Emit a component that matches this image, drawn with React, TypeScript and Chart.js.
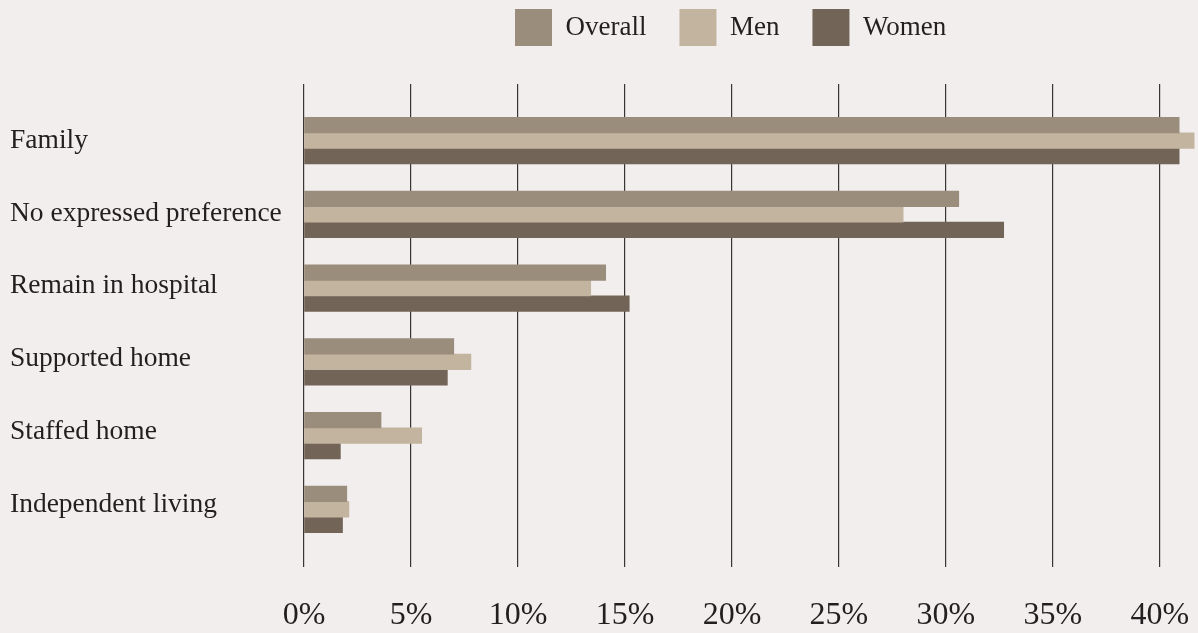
import { useEffect, useRef } from 'react';
import { Chart, registerables } from 'chart.js';

Chart.register(...registerables);

const categories = [
  'Family',
  'No expressed preference',
  'Remain in hospital',
  'Supported home',
  'Staffed home',
  'Independent living',
];
const overall = [40.9, 30.6, 14.1, 7.0, 3.6, 2.0];
const men = [41.6, 28.0, 13.4, 7.8, 5.5, 2.1];
const women = [40.9, 32.7, 15.2, 6.7, 1.7, 1.8];
const xTickValues = [0, 5, 10, 15, 20, 25, 30, 35, 40];
const seriesNames = ['Overall', 'Men', 'Women'];

const BG = '#f2eeee';
const TEXT = '#231f20';
const FONT = "'Liberation Serif', 'DejaVu Serif', serif";
const COLORS = ['#9a8d7b', '#c2b49f', '#726557'];

const legendShift = {
  id: 'legendShift',
  afterLayout(chart: any) {
    const lg = chart.legend;
    if (!lg) return;
    const p = lg.options.labels.padding;
    const dx = 515 - p - lg.left;
    const dy = 9 - p - lg.top;
    lg.left += dx;
    lg.right += dx;
    lg.top += dy;
    lg.bottom += dy;
  },
};

const noPad = (axis: any) => {
  axis.paddingLeft = 0;
  axis.paddingRight = 0;
  axis.paddingTop = 0;
  axis.paddingBottom = 0;
};

export default function App() {
  const ref = useRef<HTMLCanvasElement>(null);

  useEffect(() => {
    if (!ref.current) return;
    const toPts = (arr: number[]) => arr.map((v, i) => ({ x: v, y: i }));
    const series = [overall, men, women];
    const chart = new Chart(ref.current, {
      type: 'bar',
      data: {
        datasets: series.map((s, k) => ({
          label: seriesNames[k],
          data: toPts(s),
          backgroundColor: COLORS[k],
          borderWidth: 0,
          barThickness: 15.5,
          yAxisID: 'y',
          xAxisID: 'x',
        })),
      },
      options: {
        indexAxis: 'y',
        animation: false,
        responsive: false,
        layout: { padding: { left: 10, right: 0, top: 4, bottom: 0 } },
        plugins: {
          tooltip: { enabled: false },
          legend: {
            display: true,
            position: 'top',
            align: 'start',
            labels: {
              boxWidth: 37,
              boxHeight: 37,
              padding: 33,
              color: TEXT,
              font: { family: FONT, size: 27 },
            },
          },
        },
        scales: {
          x: {
            type: 'linear',
            position: 'bottom',
            offset: false,
            min: 0,
            max: 41.78,
            afterBuildTicks: (axis: any) => {
              axis.ticks = xTickValues.map((v) => ({ value: v }));
            },
            afterFit: (axis: any) => {
              axis.height = 66;
              noPad(axis);
            },
            grid: {
              display: true,
              offset: false,
              drawTicks: false,
              color: '#3a3535',
              lineWidth: 1.2,
            },
            border: { display: false },
            ticks: {
              padding: 29,
              color: TEXT,
              font: { family: FONT, size: 32 },
              maxRotation: 0,
              callback: (v: any) => `${v}%`,
            },
          },
          y: {
            type: 'linear',
            position: 'left',
            reverse: true,
            offset: false,
            display: false,
            min: -0.769,
            max: 5.782,
            afterBuildTicks: (axis: any) => {
              axis.ticks = categories.map((_, i) => ({ value: i }));
            },
            afterFit: noPad,
            grid: { offset: false },
          },
          yL: {
            type: 'linear',
            axis: 'y',
            position: 'left',
            reverse: true,
            offset: false,
            min: -0.782,
            max: 5.861,
            afterBuildTicks: (axis: any) => {
              axis.ticks = categories.map((_, i) => ({ value: i }));
            },
            afterFit: (axis: any) => {
              axis.width = 294;
              noPad(axis);
            },
            grid: { display: false, drawTicks: false, offset: false },
            border: { display: false },
            ticks: {
              crossAlign: 'far',
              padding: 0,
              color: TEXT,
              font: { family: FONT, size: 27.5 },
              callback: (v: any) => categories[v] ?? '',
            },
          },
        },
      } as any,
      plugins: [legendShift],
    });
    return () => chart.destroy();
  }, []);

  return (
    <div
      style={{
        position: 'fixed',
        left: 0,
        top: 0,
        width: 1198,
        height: 633,
        background: BG,
      }}
    >
      <canvas ref={ref} width={1198} height={633} style={{ display: 'block', background: BG }} />
    </div>
  );
}
